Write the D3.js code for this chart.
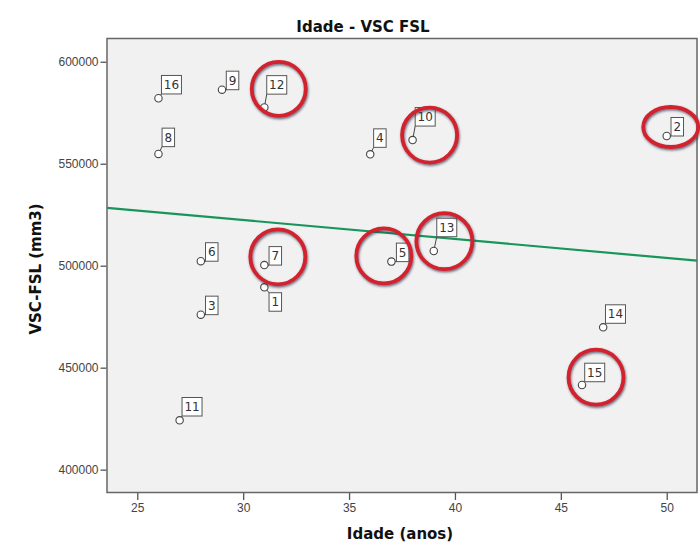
<!DOCTYPE html>
<html>
<head>
<meta charset="utf-8">
<style>
  body { margin: 0; background: #fff; }
  svg { display: block; font-family: "DejaVu Sans", sans-serif; }
  .tick-label { font-size: 12px; fill: #444; }
  .title { font-size: 15px; font-weight: bold; fill: #111; }
</style>
<script src="https://cdn.jsdelivr.net/npm/d3@7"></script>
</head>
<body>
<svg width="700" height="542"></svg>
<script>
// casos (numero do sujeito), idade e volume VSC-FSL
const casos = [1, 2, 3, 4, 5, 6, 7, 8, 9, 10, 11, 12, 13, 14, 15, 16];
const idade = [31, 50, 28, 36, 37, 28, 31, 26, 29, 38, 27, 31, 39, 47, 46, 26];
const vscFsl = [489400, 563600, 476000, 554600, 502000, 502200, 500300, 554800,
                586300, 561600, 424200, 577600, 507200, 469800, 441500, 582100];
const xTicks = [25, 30, 35, 40, 45, 50];
const yTicks = [400000, 450000, 500000, 550000, 600000];
// casos marcados com circulo vermelho
const destacados = [12, 10, 2, 7, 5, 13, 15];

// layout of the case labels: offset of the box corner from the point, and side
const labelPos = {
  1: [4.7, 5.4, "below"], 2: [4.3, 0], 3: [4.7, 0], 4: [3.4, -7], 5: [5, 0],
  6: [4.7, 0], 7: [4.7, 0], 8: [3.6, -7.3], 9: [4.3, 0], 10: [2.6, -14],
  11: [2.4, -4.3], 12: [2.4, -13.3], 13: [3, -14.3], 14: [2.3, -4],
  15: [2.7, -3.3], 16: [3, -4.3]
};
// layout of the red hand-drawn circles: offset of centre from the point, rx, ry
const ringPos = {
  12: [14.4, -18.6, 27, 27], 10: [17, -5, 27.5, 27.5], 2: [4, -9, 27.5, 20],
  7: [13.5, -8.3, 27.5, 27.5], 5: [-7.6, -5.7, 27.5, 27.5],
  13: [10.6, -9.8, 28, 28], 15: [14, -7.8, 27.5, 27.5]
};

const svg = d3.select("svg");
const plot = { left: 107, right: 697, top: 38.5, bottom: 492.5 };

const x = d3.scaleLinear().domain([23.57, 51.43]).range([plot.left, plot.right]);
const y = d3.scaleLinear().domain([388800, 611400]).range([plot.bottom, plot.top]);

const data = casos.map((c, i) => ({ caso: c, idade: idade[i], vsc: vscFsl[i] }));

// shadow for red circles
const defs = svg.append("defs");
const f = defs.append("filter").attr("id", "sombra")
  .attr("x", "-30%").attr("y", "-30%").attr("width", "160%").attr("height", "160%");
f.append("feDropShadow").attr("dx", 0.8).attr("dy", 1.5).attr("stdDeviation", 1.2)
  .attr("flood-color", "#2a3450").attr("flood-opacity", 0.7);
defs.append("clipPath").attr("id", "clip").append("rect")
  .attr("x", plot.left).attr("y", plot.top)
  .attr("width", plot.right - plot.left).attr("height", plot.bottom - plot.top);

// plot background
svg.append("rect")
  .attr("x", plot.left).attr("y", plot.top)
  .attr("width", plot.right - plot.left).attr("height", plot.bottom - plot.top)
  .attr("fill", "#f1f1f1");

// x axis
const xAxis = svg.append("g")
  .attr("transform", "translate(0," + (plot.bottom + 0.5) + ")")
  .call(d3.axisBottom(x).tickValues(xTicks).tickSize(7).tickSizeOuter(0).tickPadding(3));
xAxis.select(".domain").remove();
xAxis.selectAll("line").attr("stroke", "#555").attr("stroke-width", 1.3);
xAxis.selectAll("text").attr("class", "tick-label").attr("font-family", null).attr("font-size", null).attr("fill", null);

// y axis
const yAxis = svg.append("g")
  .attr("transform", "translate(" + (plot.left - 0.5) + ",0)")
  .call(d3.axisLeft(y).tickValues(yTicks).tickSize(6).tickSizeOuter(0).tickPadding(2)
    .tickFormat(d3.format("d")));
yAxis.select(".domain").remove();
yAxis.selectAll("line").attr("stroke", "#555").attr("stroke-width", 1.3);
yAxis.selectAll("text").attr("class", "tick-label").attr("font-family", null).attr("font-size", null).attr("fill", null);

// frame
svg.append("rect")
  .attr("x", plot.left).attr("y", plot.top)
  .attr("width", plot.right - plot.left).attr("height", plot.bottom - plot.top)
  .attr("fill", "none").attr("stroke", "#666").attr("stroke-width", 1.5);

// linha de regressao (minimos quadrados)
const mx = d3.mean(data, d => d.idade), my = d3.mean(data, d => d.vsc);
const b = d3.sum(data, d => (d.idade - mx) * (d.vsc - my)) / d3.sum(data, d => (d.idade - mx) ** 2);
const a = my - b * mx;
const xd = x.domain();
svg.append("line")
  .attr("clip-path", "url(#clip)")
  .attr("x1", x(xd[0])).attr("y1", y(a + b * xd[0]))
  .attr("x2", x(xd[1])).attr("y2", y(a + b * xd[1]))
  .attr("stroke", "#17955a").attr("stroke-width", 2.2);

// case labels
const boxH = 18.5;
const lab = svg.append("g").selectAll("g").data(data).enter().append("g");
lab.each(function (d) {
  const g = d3.select(this);
  const px = x(d.idade), py = y(d.vsc);
  const p = labelPos[d.caso];
  const w = String(d.caso).length > 1 ? 20 : 12.5;
  const cx = px + p[0], cy = py + p[1];
  const top = p[2] === "below" ? cy : cy - boxH;
  g.append("line").attr("x1", px).attr("y1", py).attr("x2", cx).attr("y2", cy)
    .attr("stroke", "#444").attr("stroke-width", 1);
  g.append("rect").attr("x", cx).attr("y", top).attr("width", w).attr("height", boxH)
    .attr("fill", "#fff").attr("stroke", "#555").attr("stroke-width", 1);
  g.append("text").attr("x", cx + w / 2).attr("y", top + boxH - 5)
    .attr("text-anchor", "middle").attr("font-size", "12px").attr("fill", "#333")
    .text(d.caso);
  g.append("circle").attr("cx", px).attr("cy", py).attr("r", 3.7)
    .attr("fill", "#fff").attr("stroke", "#444").attr("stroke-width", 1.1);
});

// red circles
svg.append("g").selectAll("ellipse")
  .data(data.filter(d => destacados.includes(d.caso)))
  .enter().append("ellipse")
  .attr("cx", d => x(d.idade) + ringPos[d.caso][0])
  .attr("cy", d => y(d.vsc) + ringPos[d.caso][1])
  .attr("rx", d => ringPos[d.caso][2])
  .attr("ry", d => ringPos[d.caso][3])
  .attr("fill", "none").attr("stroke", "#d2202d").attr("stroke-width", 3.8)
  .attr("filter", "url(#sombra)");

// titles
svg.append("text").attr("class", "title").attr("x", 363).attr("y", 32)
  .attr("text-anchor", "middle").text("Idade - VSC FSL");
svg.append("text").attr("class", "title").attr("x", 400).attr("y", 539)
  .attr("text-anchor", "middle").text("Idade (anos)");
svg.append("text").attr("class", "title")
  .attr("transform", "translate(41,269) rotate(-90)")
  .attr("text-anchor", "middle").text("VSC-FSL (mm3)");
</script>
</body>
</html>
